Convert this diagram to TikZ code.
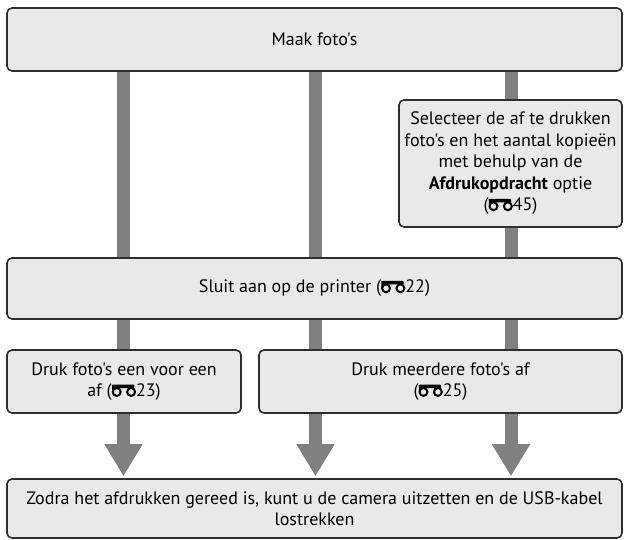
\documentclass[tikz,border=0pt]{standalone}
\usepackage{fontspec}
\setmainfont{PT Sans}[Ligatures=TeXOff]
\usepackage{tikz}
\usetikzlibrary{arrows.meta, backgrounds}

\definecolor{boxfill}{HTML}{E9E9E9}
\definecolor{boxline}{HTML}{2E2E2E}
\definecolor{barcol}{HTML}{808080}

% small binocular sign used for page references
\newcommand{\binoc}{\tikz[baseline=0pt]{%
  \draw[line width=0.11em] (0.3em,0.26em) circle (0.22em);
  \draw[line width=0.11em] (1.1em,0.26em) circle (0.22em);
  \draw[line width=0.11em] (0.09em,0.66em) -- (0.1em,0.3em);
  \fill[rounded corners=0.05em] (0.1em,0.47em) rectangle (1.28em,0.67em);}}

\tikzset{
  stepbox/.style={draw=boxline, line width=1.6pt, fill=boxfill, rounded corners=5pt,
    align=center, inner sep=0pt},
  bar/.style={draw=barcol, line width=13pt},
  flow/.style={draw=barcol, line width=13pt, -{Triangle[width=36pt,length=32pt]},
    fill=barcol, shorten >=2pt}
}

\begin{document}
\begin{tikzpicture}[x=1pt, y=-1pt, font=\fontsize{18}{21.5}\selectfont]
                \useasboundingbox (0,0) rectangle (625,540);
                \coordinate (c1) at (123.5,0);
                \coordinate (c2) at (315.5,0);
                \coordinate (c3) at (511,0);

                \node[stepbox, minimum width=615pt, minimum height=63pt] (foto) at (314.5,39.5) {Maak foto's};
                \node[stepbox, minimum width=223pt, minimum height=127pt] (kies) at (510.5,163.5)
                    {Selecteer de af te drukken\\foto's en het aantal kopieën\\met behulp van de\\\textbf{Afdrukopdracht} optie\\(\binoc45)};
                \node[stepbox, minimum width=615pt, minimum height=61pt] (printer) at (314.5,288.5) {Sluit aan op de printer (\binoc22)};
                \node[stepbox, minimum width=234pt, minimum height=63pt] (een) at (124,381.5) {Druk foto's een voor een\\af (\binoc23)};
                \node[stepbox, minimum width=363pt, minimum height=63pt] (meer) at (440.5,381.5) {Druk meerdere foto's af\\(\binoc25)};
                \node[stepbox, minimum width=615pt, minimum height=59pt] (klaar) at (314.5,508.5)
                    {Zodra het afdrukken gereed is, kunt u de camera uitzetten en de USB-kabel\\lostrekken};

                \begin{scope}[on background layer]
                \draw[bar] (foto.south -| c1) -- (printer.north -| c1);
                \draw[bar] (foto.south -| c2) -- (printer.north -| c2);
                \draw[bar] (foto.south -| c3) -- (kies.north -| c3);
                \draw[bar] (kies.south -| c3) -- (printer.north -| c3);
                \draw[bar] (printer.south -| c1) -- (een.north -| c1);
                \draw[bar] (printer.south -| c2) -- (meer.north -| c2);
                \draw[bar] (printer.south -| c3) -- (meer.north -| c3);
                \end{scope}

                \draw[flow] (een.south -| c1) -- (klaar.north -| c1);
                \draw[flow] (meer.south -| c2) -- (klaar.north -| c2);
                \draw[flow] (meer.south -| c3) -- (klaar.north -| c3);
\end{tikzpicture}
\end{document}
